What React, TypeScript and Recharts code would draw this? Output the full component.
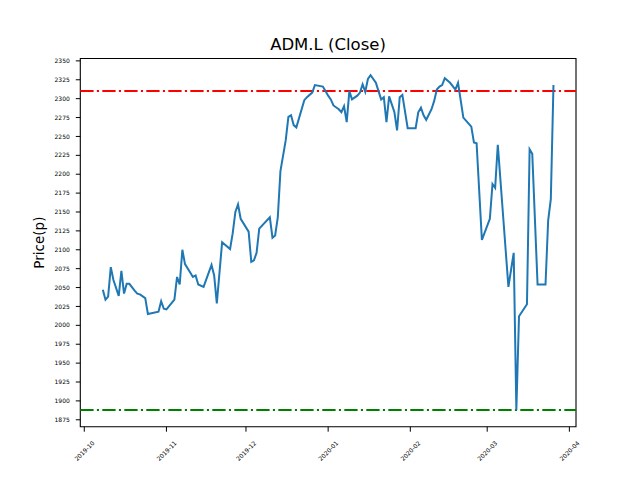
import React from "react";
import {
  LineChart,
  Line,
  XAxis,
  YAxis,
  ReferenceLine,
  ReferenceArea,
} from "recharts";

// ADM.L daily close
const dates = [
  "2019-10-08", "2019-10-09", "2019-10-10", "2019-10-11", "2019-10-12", "2019-10-14",
  "2019-10-15", "2019-10-16", "2019-10-17", "2019-10-18", "2019-10-20", "2019-10-21",
  "2019-10-22", "2019-10-24", "2019-10-25", "2019-10-29", "2019-10-30", "2019-10-31",
  "2019-11-01", "2019-11-04", "2019-11-05", "2019-11-06", "2019-11-07", "2019-11-08",
  "2019-11-11", "2019-11-12", "2019-11-13", "2019-11-15", "2019-11-18", "2019-11-19",
  "2019-11-20", "2019-11-22", "2019-11-25", "2019-11-26", "2019-11-27", "2019-11-28",
  "2019-11-29", "2019-12-02", "2019-12-03", "2019-12-04", "2019-12-05", "2019-12-06",
  "2019-12-10", "2019-12-11", "2019-12-12", "2019-12-13", "2019-12-14", "2019-12-16",
  "2019-12-17", "2019-12-18", "2019-12-19", "2019-12-20", "2019-12-23", "2019-12-24",
  "2019-12-26", "2019-12-27", "2019-12-30", "2019-12-31", "2020-01-01", "2020-01-02",
  "2020-01-03", "2020-01-05", "2020-01-06", "2020-01-07", "2020-01-08", "2020-01-09",
  "2020-01-10", "2020-01-12", "2020-01-13", "2020-01-14", "2020-01-15", "2020-01-16",
  "2020-01-17", "2020-01-19", "2020-01-20", "2020-01-21", "2020-01-22", "2020-01-23",
  "2020-01-24", "2020-01-26", "2020-01-27", "2020-01-28", "2020-01-29", "2020-01-31",
  "2020-02-03", "2020-02-04", "2020-02-05", "2020-02-06", "2020-02-07", "2020-02-09",
  "2020-02-10", "2020-02-11", "2020-02-12", "2020-02-13", "2020-02-14", "2020-02-16",
  "2020-02-18", "2020-02-19", "2020-02-21", "2020-02-24", "2020-02-25", "2020-02-26",
  "2020-02-28", "2020-03-02", "2020-03-03", "2020-03-04", "2020-03-05", "2020-03-09",
  "2020-03-11", "2020-03-12", "2020-03-13", "2020-03-16", "2020-03-17", "2020-03-18",
  "2020-03-20", "2020-03-23", "2020-03-24", "2020-03-25", "2020-03-26",
];

const closes = [
  2047, 2034, 2038, 2077, 2060, 2039,
  2072, 2042, 2055, 2055, 2046, 2042,
  2041, 2036, 2015, 2018, 2032, 2022,
  2021, 2034, 2064, 2054, 2100, 2081,
  2064, 2066, 2054, 2051, 2080, 2066,
  2029, 2110, 2101, 2122, 2150, 2160,
  2141, 2124, 2084, 2086, 2096, 2128,
  2143, 2116, 2119, 2143, 2204, 2245,
  2276, 2278, 2265, 2262, 2298, 2302,
  2308, 2318, 2316, 2310, 2304, 2299,
  2291, 2286, 2282, 2290, 2269, 2310,
  2299, 2304, 2308, 2319, 2309, 2326,
  2331, 2321, 2310, 2299, 2302, 2269,
  2303, 2282, 2258, 2302, 2305, 2261,
  2261, 2282, 2288, 2278, 2272, 2286,
  2297, 2312, 2316, 2318, 2327, 2321,
  2312, 2321, 2275, 2263, 2242, 2241,
  2113, 2141, 2187, 2182, 2239, 2051,
  2096, 1888, 2012, 2028, 2233, 2227,
  2054, 2054, 2139, 2167, 2318,
];

const monthTicks = ["2019-10", "2019-11", "2019-12", "2020-01", "2020-02", "2020-03", "2020-04"];
const priceTicks = [
  1875, 1900, 1925, 1950, 1975, 2000, 2025, 2050, 2075, 2100, 2125, 2150,
  2175, 2200, 2225, 2250, 2275, 2300, 2325, 2350,
];
const upperLevel = 2310;
const lowerLevel = 1888;

const data = dates.map((d, i) => ({ t: Date.parse(d), close: closes[i] }));

// matplotlib style 5% margins around the data
const tMin = data[0].t;
const tMax = data[data.length - 1].t;
const xDomain = [tMin - (tMax - tMin) * 0.05, tMax + (tMax - tMin) * 0.05];
const vMin = Math.min(...closes);
const vMax = Math.max(...closes);
const yDomain = [vMin - (vMax - vMin) * 0.05, vMax + (vMax - vMin) * 0.05];

const FONT = "DejaVu Sans, Liberation Sans, sans-serif";
const DASHDOT = "13.3 3.3 2.1 3.3";

const monthLabel = (v: number) => {
  const d = new Date(v);
  return `${d.getUTCFullYear()}-${String(d.getUTCMonth() + 1).padStart(2, "0")}`;
};

const DateTick = ({ x, y, payload }: any) => {
  const cy = y + 19;
  return (
    <text
      x={x}
      y={cy}
      transform={`rotate(-45, ${x}, ${cy})`}
      textAnchor="middle"
      dominantBaseline="central"
      fontSize={6}
      fontFamily={FONT}
      fill="#000"
    >
      {monthLabel(payload.value)}
    </text>
  );
};

export default function App() {
  return (
    <div style={{ position: "absolute", left: 0, top: 0, width: 640, height: 480, background: "#fff" }}>
      <LineChart
        width={640}
        height={480}
        data={data}
        margin={{ top: 58.5, right: 64, bottom: 0, left: 0 }}
      >
        <XAxis
          dataKey="t"
          type="number"
          domain={xDomain}
          allowDataOverflow
          ticks={monthTicks.map((m) => Date.parse(m + "-01"))}
          tick={<DateTick />}
          tickSize={5}
          tickMargin={0}
          tickLine={{ stroke: "#000", strokeWidth: 1 }}
          axisLine={false}
          height={53.3}
          interval={0}
        />
        <YAxis
          type="number"
          domain={yDomain}
          allowDataOverflow
          ticks={priceTicks}
          interval={0}
          width={80.3}
          tickSize={4.5}
          tickMargin={6}
          tickLine={{ stroke: "#000", strokeWidth: 1 }}
          axisLine={false}
          tick={{ fontSize: 6, fill: "#000", fontFamily: FONT }}
        />
        <ReferenceLine
          y={upperLevel}
          stroke="#ff0000"
          strokeWidth={2}
          strokeDasharray={DASHDOT}
        />
        <ReferenceLine
          y={lowerLevel}
          stroke="#008000"
          strokeWidth={2}
          strokeDasharray={DASHDOT}
        />
        <Line
          type="linear"
          dataKey="close"
          stroke="#1f77b4"
          strokeWidth={2}
          dot={false}
          activeDot={false}
          isAnimationActive={false}
        />
        <ReferenceArea
          x1={xDomain[0]}
          x2={xDomain[1]}
          y1={yDomain[0]}
          y2={yDomain[1]}
          fill="none"
          fillOpacity={0}
          stroke="#000"
          strokeWidth={1.1}
        />
      </LineChart>
      <svg
        width={640}
        height={480}
        style={{ position: "absolute", left: 0, top: 0, pointerEvents: "none" }}
      >
        <text x={328} y={50} textAnchor="middle" fontSize={16.5} fontFamily={FONT} fill="#000">
          ADM.L (Close)
        </text>
        <text
          x={44}
          y={242.6}
          transform="rotate(-90, 44, 242.6)"
          textAnchor="middle"
          fontSize={13.5}
          fontFamily={FONT}
          fill="#000"
        >
          Price(p)
        </text>
      </svg>
    </div>
  );
}
